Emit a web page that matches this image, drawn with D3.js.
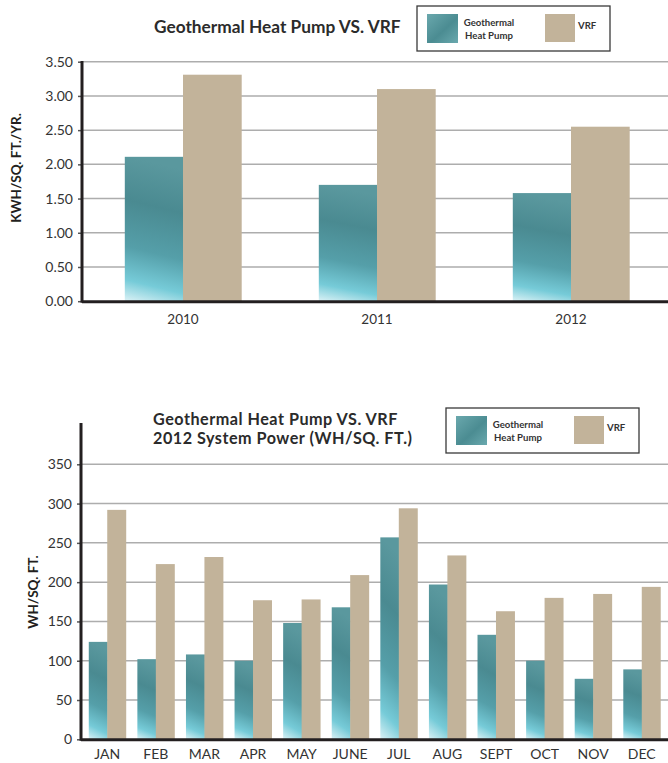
<!DOCTYPE html>
<html>
<head>
<meta charset="utf-8">
<script src="https://cdn.jsdelivr.net/npm/d3@7"></script>
<style>
  body { margin: 0; background: #fff; }
  svg { display: block; font-family: Lato, "Open Sans", sans-serif; }
  .grid line { stroke: #adadad; stroke-width: 1.5; }
  .tick text { fill: #333; }
</style>
</head>
<body>
<div id="chart"></div>
<script>
// yearly chart
var years = ["2010", "2011", "2012"];
var geoYearly = [2.11, 1.70, 1.58];
var vrfYearly = [3.31, 3.10, 2.55];
var yearlyTicks = [0, 0.5, 1, 1.5, 2, 2.5, 3, 3.5];

// monthly chart
var months = ["JAN", "FEB", "MAR", "APR", "MAY", "JUNE", "JUL", "AUG", "SEPT", "OCT", "NOV", "DEC"];
var geoMonthly = [124, 102, 108, 100, 148, 168, 257, 197, 133, 100, 77, 89];
var vrfMonthly = [292, 223, 232, 177, 178, 209, 294, 234, 163, 180, 185, 194];
var monthlyTicks = [0, 50, 100, 150, 200, 250, 300, 350];

var series = ["geo", "vrf"];
var W = 668, H = 763;

var svg = d3.select("#chart").append("svg")
    .attr("width", W).attr("height", H);

// water-ish gradient for the geothermal bars
var defs = svg.append("defs");
var grad = defs.append("linearGradient")
    .attr("id", "geoFill")
    .attr("x1", 0.1).attr("y1", 0).attr("x2", 0).attr("y2", 1);
[["0%", "#5a989e"], ["30%", "#4a8a91"], ["62%", "#559fa9"], ["85%", "#76cbd8"], ["100%", "#dcf2f6"]]
  .forEach(function(s) { grad.append("stop").attr("offset", s[0]).attr("stop-color", s[1]); });

var legendGrad = defs.append("linearGradient")
    .attr("id", "geoLegend")
    .attr("x1", 0).attr("y1", 0).attr("x2", 1).attr("y2", 1);
[["0%", "#6aa8ad"], ["55%", "#4b8c92"], ["100%", "#6aa9ae"]]
  .forEach(function(s) { legendGrad.append("stop").attr("offset", s[0]).attr("stop-color", s[1]); });

var colors = { geo: "url(#geoFill)", vrf: "#c2b39a" };

function drawChart(opt) {
  var g = svg.append("g");

  var y = d3.scaleLinear().domain(opt.yDomain).range([opt.bottom, opt.top]);
  var x0 = d3.scaleBand().domain(opt.cats).range(opt.xRange)
      .paddingInner(opt.padIn).paddingOuter(opt.padOut);
  var x1 = d3.scaleBand().domain(series).range([0, x0.bandwidth()]);

  // gridlines
  g.append("g").attr("class", "grid")
    .selectAll("line").data(opt.ticks.slice(1)).enter().append("line")
      .attr("x1", opt.left).attr("x2", W)
      .attr("y1", function(d) { return y(d); })
      .attr("y2", function(d) { return y(d); });

  var rows = opt.cats.map(function(c, i) {
    return { cat: c, geo: opt.geo[i], vrf: opt.vrf[i] };
  });

  g.append("g").selectAll("g").data(rows).enter().append("g")
      .attr("transform", function(d) { return "translate(" + x0(d.cat) + ",0)"; })
    .selectAll("rect")
      .data(function(d) { return series.map(function(k) { return { key: k, value: d[k] }; }); })
    .enter().append("rect")
      .attr("x", function(d) { return x1(d.key); })
      .attr("width", x1.bandwidth() + 0.5)
      .attr("y", function(d) { return y(d.value); })
      .attr("height", function(d) { return y(0) - y(d.value); })
      .attr("fill", function(d) { return colors[d.key]; });

  // y axis
  var yAxis = d3.axisLeft(y).tickValues(opt.ticks).tickFormat(opt.fmt)
      .tickSize(4).tickPadding(5);
  var ya = g.append("g").attr("transform", "translate(" + opt.left + ",0)").call(yAxis);
  ya.select(".domain").remove();
  ya.selectAll(".tick line").attr("stroke", "#555").attr("stroke-width", 1.5);
  ya.selectAll(".tick text").attr("font-size", 14).attr("font-family", "Lato, sans-serif");
  g.append("line")
      .attr("x1", opt.left).attr("x2", opt.left)
      .attr("y1", opt.axisTop).attr("y2", y(0) + 1.5)
      .attr("stroke", "#231f20").attr("stroke-width", 3);

  // x axis
  var xAxis = d3.axisBottom(x0).tickSize(0).tickPadding(opt.xPad);
  var xa = g.append("g").attr("transform", "translate(0," + y(0) + ")").call(xAxis);
  xa.select(".domain").remove();
  xa.selectAll(".tick text").attr("font-size", opt.xFont).attr("font-family", "Lato, sans-serif");
  g.append("line")
      .attr("x1", opt.left).attr("x2", W)
      .attr("y1", y(0) + 0.5).attr("y2", y(0) + 0.5)
      .attr("stroke", "#231f20").attr("stroke-width", 3);

  // y title
  g.append("text")
      .attr("transform", "translate(" + opt.yTitleX + "," + opt.yTitleY + ") rotate(-90)")
      .attr("text-anchor", "middle")
      .attr("font-weight", "bold").attr("font-size", 13.5).attr("fill", "#231f20")
      .text(opt.yTitle);

  // chart title
  var t = g.append("text").attr("font-weight", "bold").attr("font-size", opt.titleSize)
      .attr("letter-spacing", opt.titleSpacing)
      .attr("fill", "#2b2b2b").attr("x", opt.titleX).attr("y", opt.titleY);
  opt.title.forEach(function(line, i) {
    t.append("tspan").attr("x", opt.titleX).attr("dy", i ? 19.5 : 0).text(line);
  });

  // legend
  var lg = g.append("g").attr("transform", "translate(" + opt.legendX + "," + opt.legendY + ")");
  lg.append("rect").attr("width", 193).attr("height", 45)
      .attr("fill", "#fff").attr("stroke", "#3a3a3a").attr("stroke-width", 1.3);
  lg.append("rect").attr("x", 10).attr("y", 8).attr("width", 31).attr("height", 29)
      .attr("fill", "url(#geoLegend)");
  lg.append("text").attr("x", 72).attr("y", 20).attr("text-anchor", "middle")
      .attr("font-size", 9.6).attr("font-weight", "bold").attr("fill", "#333")
      .selectAll("tspan").data(["Geothermal", "Heat Pump"]).enter().append("tspan")
      .attr("x", 72).attr("dy", function(d, i) { return i ? 12.5 : 0; })
      .text(function(d) { return d; });
  lg.append("rect").attr("x", 128).attr("y", 8).attr("width", 30).attr("height", 28)
      .attr("fill", colors.vrf);
  lg.append("text").attr("x", 161).attr("y", 23)
      .attr("font-size", 9.6).attr("font-weight", "bold").attr("fill", "#333").text("VRF");
}

drawChart({
  cats: years, geo: geoYearly, vrf: vrfYearly, ticks: yearlyTicks,
  yDomain: [0, 3.5], top: 61.7, bottom: 301.2, axisTop: 61, left: 82,
  xRange: [86, 668], padIn: 0.4, padOut: 0.2, fmt: d3.format(".2f"),
  xPad: 13, xFont: 13.5,
  yTitle: "KWH/SQ. FT./YR.", yTitleX: 21, yTitleY: 168,
  title: ["Geothermal Heat Pump VS. VRF"], titleX: 154, titleY: 33,
  titleSize: 17.3, titleSpacing: 0,
  legendX: 417, legendY: 6
});

drawChart({
  cats: months, geo: geoMonthly, vrf: vrfMonthly, ticks: monthlyTicks,
  yDomain: [0, 350], top: 464.3, bottom: 739.3, axisTop: 423, left: 81,
  xRange: [81, 668], padIn: 0.24, padOut: 0.16, fmt: d3.format("d"),
  xPad: 10, xFont: 14,
  yTitle: "WH/SQ. FT.", yTitleX: 38, yTitleY: 592,
  title: ["Geothermal Heat Pump VS. VRF", "2012 System Power (WH/SQ. FT.)"], titleX: 153, titleY: 424.5,
  titleSize: 16.2, titleSpacing: 0.5,
  legendX: 446, legendY: 408
});
</script>
</body>
</html>
